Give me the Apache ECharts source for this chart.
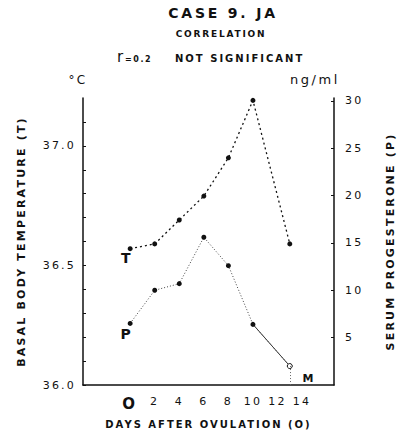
<!DOCTYPE html>
<html>
<head>
<meta charset="utf-8">
<title>Case 9. JA</title>
<script src="https://cdn.jsdelivr.net/npm/echarts@6.0.0/dist/echarts.min.js"></script>
<style>
  html, body { margin: 0; padding: 0; background: #fff; }
  #chart { width: 406px; height: 434px; }
  /* the original lettering is widely spaced */
  #chart text { letter-spacing: 0.2em; }
</style>
</head>
<body>
<div id="chart"></div>
<script>
// days after ovulation
var days = [0, 2, 4, 6, 8, 10, 13];
// basal body temperature, deg C
var temperature = [36.57, 36.59, 36.69, 36.79, 36.95, 37.19, 36.59];
// serum progesterone, ng/ml
var progesterone = [6.5, 10.0, 10.7, 15.6, 12.6, 6.4, 2.0];

var dayTicks = [0, 2, 4, 6, 8, 10, 12, 14];
var tempLabels = [36.0, 36.5, 37.0];
var tempTicks = [36.0, 36.1, 36.2, 36.3, 36.4, 36.5, 36.6, 36.7, 36.8, 36.9, 37.0, 37.1];
var progLabels = [5, 10, 15, 20, 25, 30];

var FONT = 'DejaVu Sans';
var INK = '#111';

function pairs(xs, ys) {
  var out = [];
  for (var i = 0; i < xs.length; i++) out.push([xs[i], ys[i]]);
  return out;
}

var tData = pairs(days, temperature);
tData[0] = { value: tData[0], label: { show: true, formatter: 'T', position: 'bottom', distance: 0, offset: [-3, 0],
  fontFamily: FONT, fontWeight: 'bold', fontSize: 14, color: INK } };

var pData = pairs(days, progesterone);
pData[0] = { value: pData[0], label: { show: true, formatter: 'P', position: 'bottom', distance: 1, offset: [-3, 0],
  fontFamily: FONT, fontWeight: 'bold', fontSize: 14, color: INK } };
var last = days.length - 1;
pData[last] = { value: pData[last], itemStyle: { color: '#fff', borderColor: INK, borderWidth: 1 } };

var chart = echarts.init(document.getElementById('chart'), null, { renderer: 'svg' });

chart.setOption({
  animation: false,
  backgroundColor: '#fff',
  grid: { left: 83, right: 72, top: 98, bottom: 49 },
  xAxis: {
    type: 'value',
    min: -3.84,
    max: 16.6,
    name: 'DAYS AFTER OVULATION (O)',
    nameLocation: 'middle',
    nameGap: 34,
    nameTextStyle: { fontFamily: FONT, fontWeight: 'bold', fontSize: 10, color: INK },
    axisLine: { onZero: false, lineStyle: { color: INK, width: 1.5 } },
    axisTick: { show: false },
    splitLine: { show: false },
    axisLabel: {
      customValues: dayTicks,
      margin: 11,
      fontFamily: FONT,
      fontSize: 11,
      color: INK,
      formatter: function (v) { return v === 0 ? '{o|O}' : String(v); },
      rich: { o: { fontFamily: FONT, fontWeight: 'bold', fontSize: 15, color: INK } }
    }
  },
  yAxis: [{
    type: 'value',
    min: 36.0,
    max: 37.2,
    position: 'left',
    name: 'BASAL BODY TEMPERATURE (T)',
    nameLocation: 'middle',
    nameRotate: 90,
    nameGap: 56,
    nameTextStyle: { fontFamily: FONT, fontWeight: 'bold', fontSize: 11, color: INK },
    axisLine: { show: true, onZero: false, lineStyle: { color: INK, width: 1.5 } },
    axisTick: { show: true, customValues: tempTicks, length: 3, inside: true, lineStyle: { color: INK } },
    splitLine: { show: false },
    axisLabel: {
      customValues: tempLabels,
      margin: 7,
      fontFamily: FONT,
      fontSize: 11,
      color: INK,
      formatter: function (v) { return v.toFixed(1); }
    }
  }, {
    type: 'value',
    min: 0,
    max: 30.3,
    position: 'right',
    name: 'SERUM PROGESTERONE (P)',
    nameLocation: 'middle',
    nameRotate: 90,
    nameGap: 51,
    nameTextStyle: { fontFamily: FONT, fontWeight: 'bold', fontSize: 11, color: INK },
    axisLine: { show: true, onZero: false, lineStyle: { color: INK, width: 1.5 } },
    axisTick: { show: true, customValues: progLabels, length: 3, inside: true, lineStyle: { color: INK } },
    splitLine: { show: false },
    axisLabel: {
      customValues: progLabels,
      margin: 11,
      fontFamily: FONT,
      fontSize: 11,
      color: INK
    }
  }],
  series: [{
    name: 'T',
    type: 'line',
    yAxisIndex: 0,
    data: tData,
    symbol: 'circle',
    symbolSize: 5,
    itemStyle: { color: INK },
    lineStyle: { color: INK, width: 1.3, type: [2, 3] },
    z: 3
  }, {
    name: 'P',
    type: 'line',
    yAxisIndex: 1,
    data: pData,
    symbol: 'circle',
    symbolSize: 5,
    itemStyle: { color: INK },
    lineStyle: { color: '#444', width: 1, type: [1, 2] },
    markLine: {
      silent: true,
      symbol: 'none',
      label: { show: false },
      lineStyle: { color: '#666', width: 1, type: [1, 2] },
      data: [[{ coord: [days[last], progesterone[last]] }, { coord: [days[last], 0] }]]
    },
    z: 3
  }, {
    // the last stretch of P is drawn solid
    name: 'P end',
    type: 'line',
    yAxisIndex: 1,
    data: pairs(days.slice(last - 1), progesterone.slice(last - 1)),
    symbol: 'none',
    lineStyle: { color: '#333', width: 1, type: 'solid' },
    z: 2
  }],
  graphic: [
    { type: 'text', x: 223, y: 13, style: { text: 'CASE 9. JA', font: 'bold 14px "DejaVu Sans"', fill: INK, align: 'center', verticalAlign: 'middle' } },
    { type: 'text', x: 221, y: 34, style: { text: 'CORRELATION', font: 'bold 9px "DejaVu Sans"', fill: INK, align: 'center', verticalAlign: 'middle' } },
    { type: 'text', x: 117, y: 57, style: { text: 'r', font: '15px "DejaVu Sans"', fill: INK, align: 'left', verticalAlign: 'middle' } },
    { type: 'text', x: 125, y: 59, style: { text: '=0.2', font: 'bold 8px "DejaVu Sans"', fill: INK, align: 'left', verticalAlign: 'middle' } },
    { type: 'text', x: 175, y: 58, style: { text: 'NOT SIGNIFICANT', font: 'bold 10px "DejaVu Sans"', fill: INK, align: 'left', verticalAlign: 'middle' } },
    { type: 'text', x: 78, y: 80, style: { text: '°C', font: '12px "DejaVu Sans"', fill: INK, align: 'center', verticalAlign: 'middle' } },
    { type: 'text', x: 315, y: 79, style: { text: 'ng/ml', font: '13px "DejaVu Sans"', fill: INK, align: 'center', verticalAlign: 'middle' } },
    { type: 'text', x: 309, y: 378, style: { text: 'M', font: 'bold 11px "DejaVu Sans"', fill: INK, align: 'center', verticalAlign: 'middle' } }
  ]
});
</script>
</body>
</html>
